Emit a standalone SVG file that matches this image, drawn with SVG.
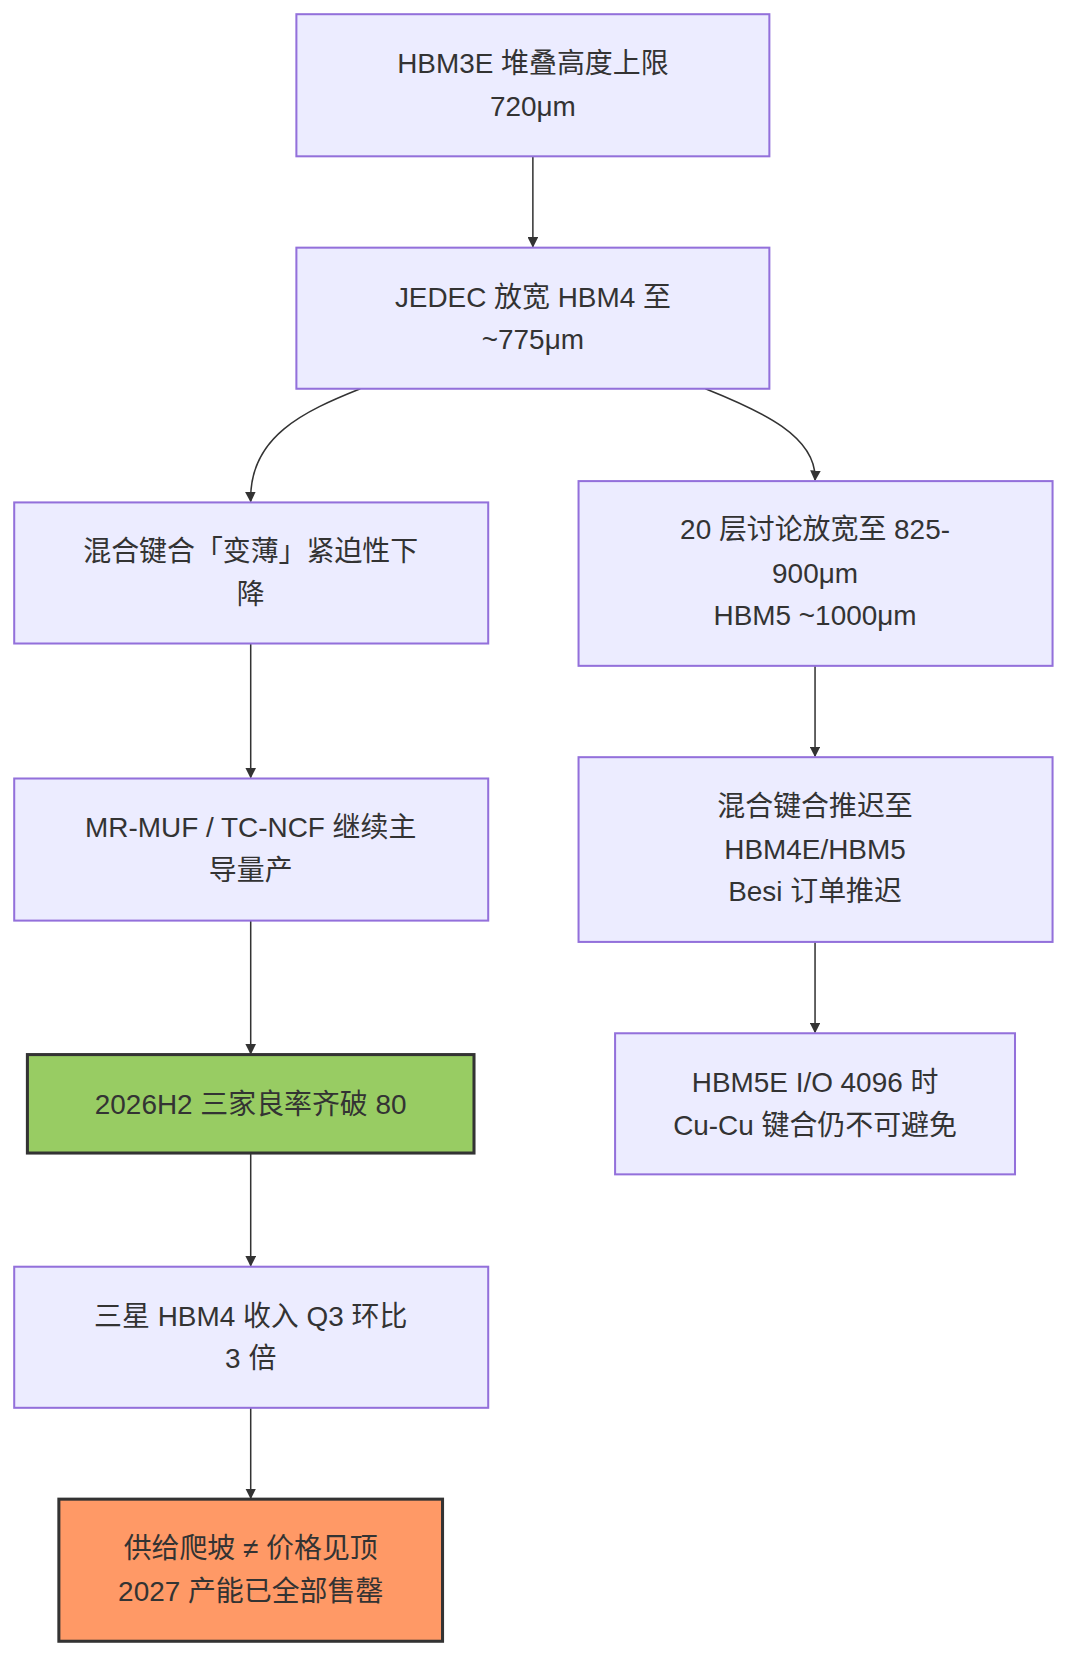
<svg xmlns="http://www.w3.org/2000/svg" width="1080" height="1677" viewBox="0 0 1080 1677">
<style>
.n{fill:#ECECFF;stroke:#9370DB;stroke-width:2}
.t{font-family:"Liberation Sans","Noto Sans CJK SC",sans-serif;font-size:27.5px;fill:#333;text-anchor:middle}
.e{fill:none;stroke:#333;stroke-width:1.5;marker-end:url(#a)}
</style>
<defs><marker id="a" viewBox="0 0 10 10" refX="9" refY="5" markerWidth="7" markerHeight="7" orient="auto"><path d="M0,0L10,5L0,10z" fill="#333"/></marker></defs>
<rect width="1080" height="1677" fill="#fff"/>
<g transform="scale(1.015)">
<g id="edges">
<path class="e" d="M525,154V243"/>
<path class="e" d="M355,383C300,405 245,430 247,494"/>
<path class="e" d="M695,383C750,405 805,430 803,473"/>
<path class="e" d="M247,634V766"/>
<path class="e" d="M803,656V745"/>
<path class="e" d="M247,907V1038"/>
<path class="e" d="M803,928V1017"/>
<path class="e" d="M247,1136V1247"/>
<path class="e" d="M247,1387V1476"/>
</g>
<g id="n1"><rect class="n" x="292" y="14" width="466" height="140"/><text class="t" x="525" y="72">HBM3E 堆叠高度上限</text><text class="t" x="525" y="114">720μm</text></g>
<g id="n2"><rect class="n" x="292" y="244" width="466" height="139"/><text class="t" x="525" y="302">JEDEC 放宽 HBM4 至</text><text class="t" x="525" y="344">~775μm</text></g>
<g id="n3"><rect class="n" x="14" y="495" width="467" height="139"/><text class="t" x="247" y="553">混合键合「变薄」紧迫性下</text><text class="t" x="247" y="595">降</text></g>
<g id="n4"><rect class="n" x="570" y="474" width="467" height="182"/><text class="t" x="803" y="531">20 层讨论放宽至 825-</text><text class="t" x="803" y="574">900μm</text><text class="t" x="803" y="616">HBM5 ~1000μm</text></g>
<g id="n5"><rect class="n" x="14" y="767" width="467" height="140"/><text class="t" x="247" y="825">MR-MUF / TC-NCF 继续主</text><text class="t" x="247" y="867">导量产</text></g>
<g id="n6"><rect class="n" x="570" y="746" width="467" height="182"/><text class="t" x="803" y="804">混合键合推迟至</text><text class="t" x="803" y="846">HBM4E/HBM5</text><text class="t" x="803" y="888">Besi 订单推迟</text></g>
<g id="n7"><rect x="27" y="1039" width="440" height="97" fill="#98CC63" stroke="#333" stroke-width="3"/><text class="t" x="247" y="1098">2026H2 三家良率齐破 80</text></g>
<g id="n8"><rect class="n" x="606" y="1018" width="394" height="139"/><text class="t" x="803" y="1076">HBM5E I/O 4096 时</text><text class="t" x="803" y="1118">Cu-Cu 键合仍不可避免</text></g>
<g id="n9"><rect class="n" x="14" y="1248" width="467" height="139"/><text class="t" x="247" y="1306">三星 HBM4 收入 Q3 环比</text><text class="t" x="247" y="1348">3 倍</text></g>
<g id="n10"><rect x="58" y="1477" width="378" height="140" fill="#FF9966" stroke="#333" stroke-width="3"/><text class="t" x="247" y="1535">供给爬坡 ≠ 价格见顶</text><text class="t" x="247" y="1577">2027 产能已全部售罄</text></g>
</g>
</svg>
